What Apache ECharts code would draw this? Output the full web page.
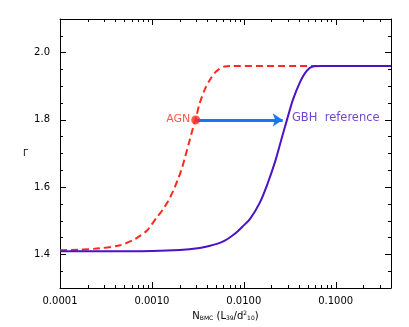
<!DOCTYPE html>
<html>
<head>
<meta charset="utf-8">
<script src="https://cdn.jsdelivr.net/npm/echarts@6/dist/echarts.min.js"></script>
<style>html,body{margin:0;padding:0;background:#fff}#c{width:409px;height:327px}</style>
</head>
<body>
<div id="c"></div>
<script>
// AGN curve (red dashed)
var agnX = [0.0001,0.00016,0.00027,0.00045,0.00062,0.00074,0.00088,0.00099,0.00113,0.00132,0.0015,0.0017,0.0019,0.0021,0.0023,0.0025,0.0028,0.0030,0.0033,0.0038,0.0043,0.0050,0.0062,0.0075,0.065];
var agnY = [1.412,1.414,1.418,1.427,1.442,1.455,1.470,1.488,1.510,1.534,1.558,1.588,1.620,1.652,1.690,1.726,1.776,1.803,1.848,1.893,1.920,1.944,1.959,1.960,1.960];
// GBH reference curve (purple solid)
var gbhX = [0.0001,0.0003,0.001,0.002,0.0033,0.0042,0.0052,0.0062,0.0071,0.0083,0.0097,0.0116,0.0149,0.0183,0.0217,0.0256,0.0295,0.0343,0.0406,0.0479,0.0566,0.07,0.4];
var gbhY = [1.409,1.409,1.410,1.413,1.419,1.425,1.432,1.441,1.451,1.465,1.483,1.504,1.553,1.613,1.672,1.741,1.800,1.860,1.910,1.944,1.959,1.960,1.960];
// AGN point and arrow to GBH reference
var agnPoint = [0.003, 1.8];
var arrowEnd = [0.0265, 1.8];
var gbhLabelPoint = [0.0295, 1.8];
// tick values
var yMajorTicks = [1.4, 1.6, 1.8, 2.0];
var xMajorTicks = [0.0001, 0.001, 0.01, 0.1];
var xMinorTicks = [0.0002,0.0003,0.0004,0.0005,0.0006,0.0007,0.0008,0.0009,
                   0.002,0.003,0.004,0.005,0.006,0.007,0.008,0.009,
                   0.02,0.03,0.04,0.05,0.06,0.07,0.08,0.09,
                   0.2,0.3];

var RED = '#ff2a1e', PURPLE = '#4c12c4', BLUE = '#1b74f2';
var FONT = 'DejaVu Sans';
var Y_MIN = 1.3, Y_MAX = 2.1;

function zip(a, b) { return a.map(function (v, i) { return [v, b[i]]; }); }

var chart = echarts.init(document.getElementById('c'), null, {renderer: 'canvas'});

var axLine = {show: true, lineStyle: {color: '#000', width: 1}};
var xBase = {type: 'log', logBase: 10, min: 0.0001, max: 0.4, splitLine: {show: false}, axisLine: axLine, axisTick: {show: false}};
var yBase = {type: 'value', min: Y_MIN, max: Y_MAX, interval: 0.05, splitLine: {show: false}, axisLine: axLine};

var tickData = xMajorTicks.map(function (v) { return [v, 6]; })
  .concat(xMinorTicks.map(function (v) { return [v, 3]; }));

chart.setOption({
  animation: false,
  backgroundColor: '#fff',
  textStyle: {fontFamily: FONT},
  grid: {left: 60, right: 18, top: 19, bottom: 39},
  xAxis: [
    Object.assign({}, xBase, {
      position: 'bottom',
      axisLabel: {show: true, margin: 8, color: '#000', fontFamily: FONT, fontSize: 10,
                  showMinLabel: true, showMaxLabel: false,
                  formatter: function (v) { return v.toFixed(4); }},
      name: 'N{sub|BMC} (L{sub|39}/d{sup|2}{sub|10})',
      nameLocation: 'middle', nameGap: 22,
      nameTextStyle: {color: '#000', fontFamily: FONT, fontSize: 10,
        rich: {sub: {fontSize: 6, fontFamily: FONT, color: '#000', padding: [5, 0, 0, 0]},
               sup: {fontSize: 6, fontFamily: FONT, color: '#000', padding: [0, 0, 5, 0]}}}
    }),
    Object.assign({}, xBase, {position: 'top', axisLabel: {show: false}})
  ],
  yAxis: [
    Object.assign({}, yBase, {
      position: 'left',
      axisTick: {show: true, inside: true, length: 3, lineStyle: {color: '#000'}},
      axisLabel: {show: true, customValues: yMajorTicks, margin: 10, color: '#000', fontFamily: FONT, fontSize: 10,
                  formatter: function (v) { return v.toFixed(1); }},
      name: 'Γ', nameLocation: 'middle', nameGap: 32, nameRotate: 0,
      nameTextStyle: {color: '#000', fontFamily: FONT, fontSize: 9}
    }),
    Object.assign({}, yBase, {
      position: 'left', axisLine: {show: false},
      axisTick: {show: true, inside: true, length: 6, customValues: yMajorTicks, lineStyle: {color: '#000'}},
      axisLabel: {show: false}
    }),
    Object.assign({}, yBase, {
      position: 'right',
      axisTick: {show: true, inside: true, length: 3, lineStyle: {color: '#000'}},
      axisLabel: {show: false}
    }),
    Object.assign({}, yBase, {
      position: 'right', axisLine: {show: false},
      axisTick: {show: true, inside: true, length: 6, customValues: yMajorTicks, lineStyle: {color: '#000'}},
      axisLabel: {show: false}
    })
  ],
  series: [
    {
      type: 'custom', xAxisIndex: 0, yAxisIndex: 0, silent: true, clip: false, z: 4,
      data: tickData,
      renderItem: function (params, api) {
        var len = api.value(1);
        var pb = api.coord([api.value(0), Y_MIN]);
        var pt = api.coord([api.value(0), Y_MAX]);
        var x = Math.round(pb[0]) + 0.5;
        return {type: 'group', children: [
          {type: 'line', shape: {x1: x, y1: pb[1], x2: x, y2: pb[1] - len}, style: {stroke: '#000', lineWidth: 1}},
          {type: 'line', shape: {x1: x, y1: pt[1], x2: x, y2: pt[1] + len}, style: {stroke: '#000', lineWidth: 1}}
        ]};
      }
    },
    {
      type: 'line', name: 'AGN curve', data: zip(agnX, agnY), showSymbol: false,
      smooth: 0.3,
      lineStyle: {color: RED, width: 2, type: [7, 4]}, z: 3
    },
    {
      type: 'line', name: 'GBH curve', data: zip(gbhX, gbhY), showSymbol: false,
      smooth: 0.3,
      lineStyle: {color: PURPLE, width: 2}, z: 3
    },
    {
      type: 'scatter', data: [agnPoint], symbol: 'circle', symbolSize: 9, z: 6,
      itemStyle: {color: RED},
      label: {show: true, position: 'left', distance: 1, formatter: 'AGN', color: RED,
              fontFamily: FONT, fontSize: 11, offset: [0, -1]},
      markLine: {
        silent: true, symbol: ['none', 'arrow'], symbolSize: [10, 10], z: 5,
        label: {show: false},
        lineStyle: {color: BLUE, width: 3, type: 'solid'},
        data: [[{coord: agnPoint}, {coord: arrowEnd}]]
      }
    },
    {
      type: 'scatter', data: [gbhLabelPoint], symbolSize: 0, z: 6,
      itemStyle: {color: PURPLE},
      label: {show: true, position: 'right', distance: 5, formatter: 'GBH  reference', color: PURPLE,
              fontFamily: FONT, fontSize: 11.5, offset: [0, -2]}
    }
  ]
});
</script>
</body>
</html>
